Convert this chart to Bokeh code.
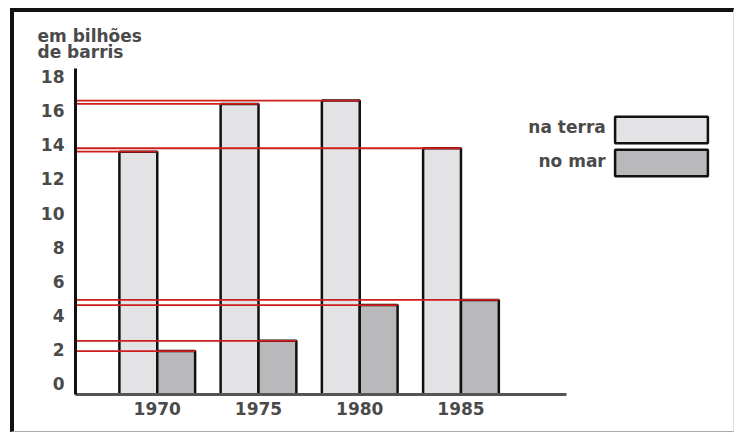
from bokeh.plotting import figure
from bokeh.models import (ColumnDataSource, FixedTicker, Range1d, Legend, LegendItem, Label, Title)
from bokeh.transform import dodge
from bokeh.embed import file_html
from bokeh.resources import INLINE

# ---- data ----
years = ["1970", "1975", "1980", "1985"]
na_terra = [13.6, 16.4, 16.6, 13.8]
no_mar = [1.9, 2.5, 4.6, 4.9]
y_ticks = [0, 2, 4, 6, 8, 10, 12, 14, 16, 18]
series_labels = ["na terra", "no mar"]
unit_title = "em bilhões\nde barris"

# ---- layout constants ----
FONT = "DejaVu Sans"
FS = "17px"
TXT = "#4a4a4a"
BAR_W = 0.374
X_START, X_END = -0.8076, 5.613
Y_START, Y_END = -0.65, 18.48
AXIS_X_END = 4.04

idx = list(range(len(years)))
src = ColumnDataSource(dict(
    g=idx,
    terra=na_terra,
    mar=no_mar,
    terra_right=[i for i in idx],
    mar_right=[i + BAR_W for i in idx],
    x0=[X_START] * len(idx),
))

p = figure(width=724, height=424, output_backend="svg", toolbar_location=None,
           x_range=Range1d(X_START, X_END), y_range=Range1d(Y_START, Y_END),
           min_border_left=61, min_border_top=56, min_border_bottom=42, min_border_right=13)
p.styles = {"margin-left": "10px", "margin-top": "8px",
            "border-left": "4px solid #111", "border-top": "4px solid #111",
            "border-bottom": "1px solid #aaa", "border-right": "1px solid #ddd"}

p.xgrid.visible = False
p.ygrid.visible = False
p.outline_line_color = None
p.background_fill_color = "white"
p.border_fill_color = "white"

r_terra = p.vbar(x=dodge("g", -BAR_W / 2), top="terra", bottom=Y_START, width=BAR_W, source=src,
                 fill_color="#e3e3e5", line_color="#111111", line_width=2.5)
r_mar = p.vbar(x=dodge("g", BAR_W / 2), top="mar", bottom=Y_START, width=BAR_W, source=src,
               fill_color="#b9b9bc", line_color="#111111", line_width=2.5)

# red reference lines from the axis to each bar top
p.segment(x0="x0", y0="terra", x1="terra_right", y1="terra", source=src,
          line_color="#d01c1c", line_width=1.8)
p.segment(x0="x0", y0="mar", x1="mar_right", y1="mar", source=src,
          line_color="#d01c1c", line_width=1.8)

# axes
ya = p.yaxis[0]
ya.ticker = FixedTicker(ticks=y_ticks)
ya.axis_line_width = 3
ya.axis_line_color = "#111111"
ya.major_tick_line_color = None
ya.minor_tick_line_color = None
ya.major_label_standoff = 5
ya.major_label_text_font = FONT
ya.major_label_text_font_style = "bold"
ya.major_label_text_font_size = FS
ya.major_label_text_color = TXT
ya.bounds = (Y_START, Y_END)

xa = p.xaxis[0]
xa.ticker = FixedTicker(ticks=idx)
xa.major_label_overrides = {i: y for i, y in zip(idx, years)}
xa.axis_line_width = 3
xa.axis_line_color = "#555555"
xa.major_tick_line_color = None
xa.minor_tick_line_color = None
xa.major_label_standoff = 1
xa.major_label_text_font = FONT
xa.major_label_text_font_style = "bold"
xa.major_label_text_font_size = FS
xa.major_label_text_color = TXT
xa.bounds = (X_START, AXIS_X_END)

# unit title above the y axis
p.add_layout(Title(text=unit_title, align="left", offset=-38, standoff=12,
                   text_font=FONT, text_font_size=FS, text_font_style="bold",
                   text_color=TXT, text_line_height=0.82), "above")

# legend: boxes via Legend, texts to the left of them
legend = Legend(items=[LegendItem(label=" ", renderers=[r_terra]),
                       LegendItem(label=" ", renderers=[r_mar])],
                location=(528, 215), glyph_width=116, glyph_height=33, spacing=0,
                padding=0, margin=0, label_standoff=0, label_width=1,
                label_text_font_size="1px", border_line_color=None, background_fill_alpha=0)
p.add_layout(legend)
for t, yv in zip(series_labels, [15.05, 13.05]):
    p.add_layout(Label(x=4.43, y=yv, text=t, text_font=FONT, text_font_size=FS,
                       text_font_style="bold", text_color=TXT,
                       text_align="right", text_baseline="middle"))

open("out.html", "w").write(file_html(p, INLINE))
